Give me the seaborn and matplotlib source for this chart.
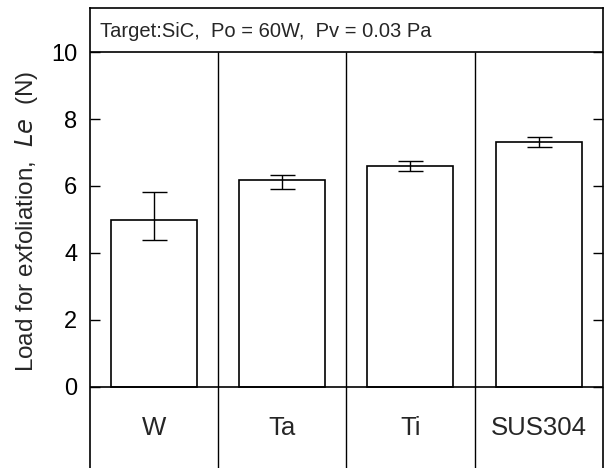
import matplotlib
matplotlib.use("Agg")
import matplotlib.pyplot as plt
import seaborn as sns
import pandas as pd
import numpy as np

# Exfoliation load per substrate material
materials = ["W", "Ta", "Ti", "SUS304"]
load_mean = [4.98, 6.17, 6.61, 7.32]
err_lower = [0.60, 0.25, 0.15, 0.16]
err_upper = [0.84, 0.16, 0.15, 0.15]
y_ticks = [0, 2, 4, 6, 8, 10]
condition_text = "Target:SiC,  Po = 60W,  Pv = 0.03 Pa"

sns.set_theme(style="white")
plt.rcParams["font.family"] = ["Liberation Sans", "DejaVu Sans"]

df = pd.DataFrame({"material": materials, "load": load_mean})

fig = plt.figure(figsize=(6.07, 4.68), dpi=100)
ax = fig.add_axes([0.148, 0.0, 0.845, 0.983])

sns.barplot(data=df, x="material", y="load", ax=ax, color="white",
            edgecolor="black", linewidth=1.2, width=0.67, errorbar=None)

x = np.arange(len(materials))
ax.errorbar(x, load_mean, yerr=[err_lower, err_upper], fmt="none",
            ecolor="black", elinewidth=1.0, capsize=9, capthick=1.0)

y_lo, y_hi = -2.43, 11.32
ax.set_xlim(-0.5, len(materials) - 0.5)
ax.set_ylim(y_lo, y_hi)

# frame: header band, baseline and category separators
for s in ["left", "right", "top"]:
    ax.spines[s].set_visible(True)
    ax.spines[s].set_color("black")
    ax.spines[s].set_linewidth(1.2)
ax.spines["bottom"].set_visible(False)
ax.axhline(10, color="black", lw=1.2)
ax.axhline(0, color="black", lw=1.2)
ax.vlines(np.arange(0.5, len(materials) - 0.5, 1.0), y_lo, 10,
          color="black", lw=1.0)

ax.set_yticks(y_ticks)
ax.set_yticklabels([str(t) for t in y_ticks], fontsize=17)
ax.tick_params(axis="y", direction="in", length=7, width=1.0, left=True,
               right=True, pad=9, colors="black")
ax.set_xticks([])
ax.set_xlabel("")

for xi, name in zip(x, materials):
    ax.text(xi, -1.22, name, ha="center", va="center", fontsize=18.5)

ax.text(-0.42, 10.63, condition_text, ha="left", va="center", fontsize=14.5)

ax.set_ylabel("Load for exfoliation,  $\\it{Le}$  (N)", fontsize=17.5)
ax.yaxis.set_label_coords(-0.097, 0.535)

fig.savefig("out.png", dpi=100)
